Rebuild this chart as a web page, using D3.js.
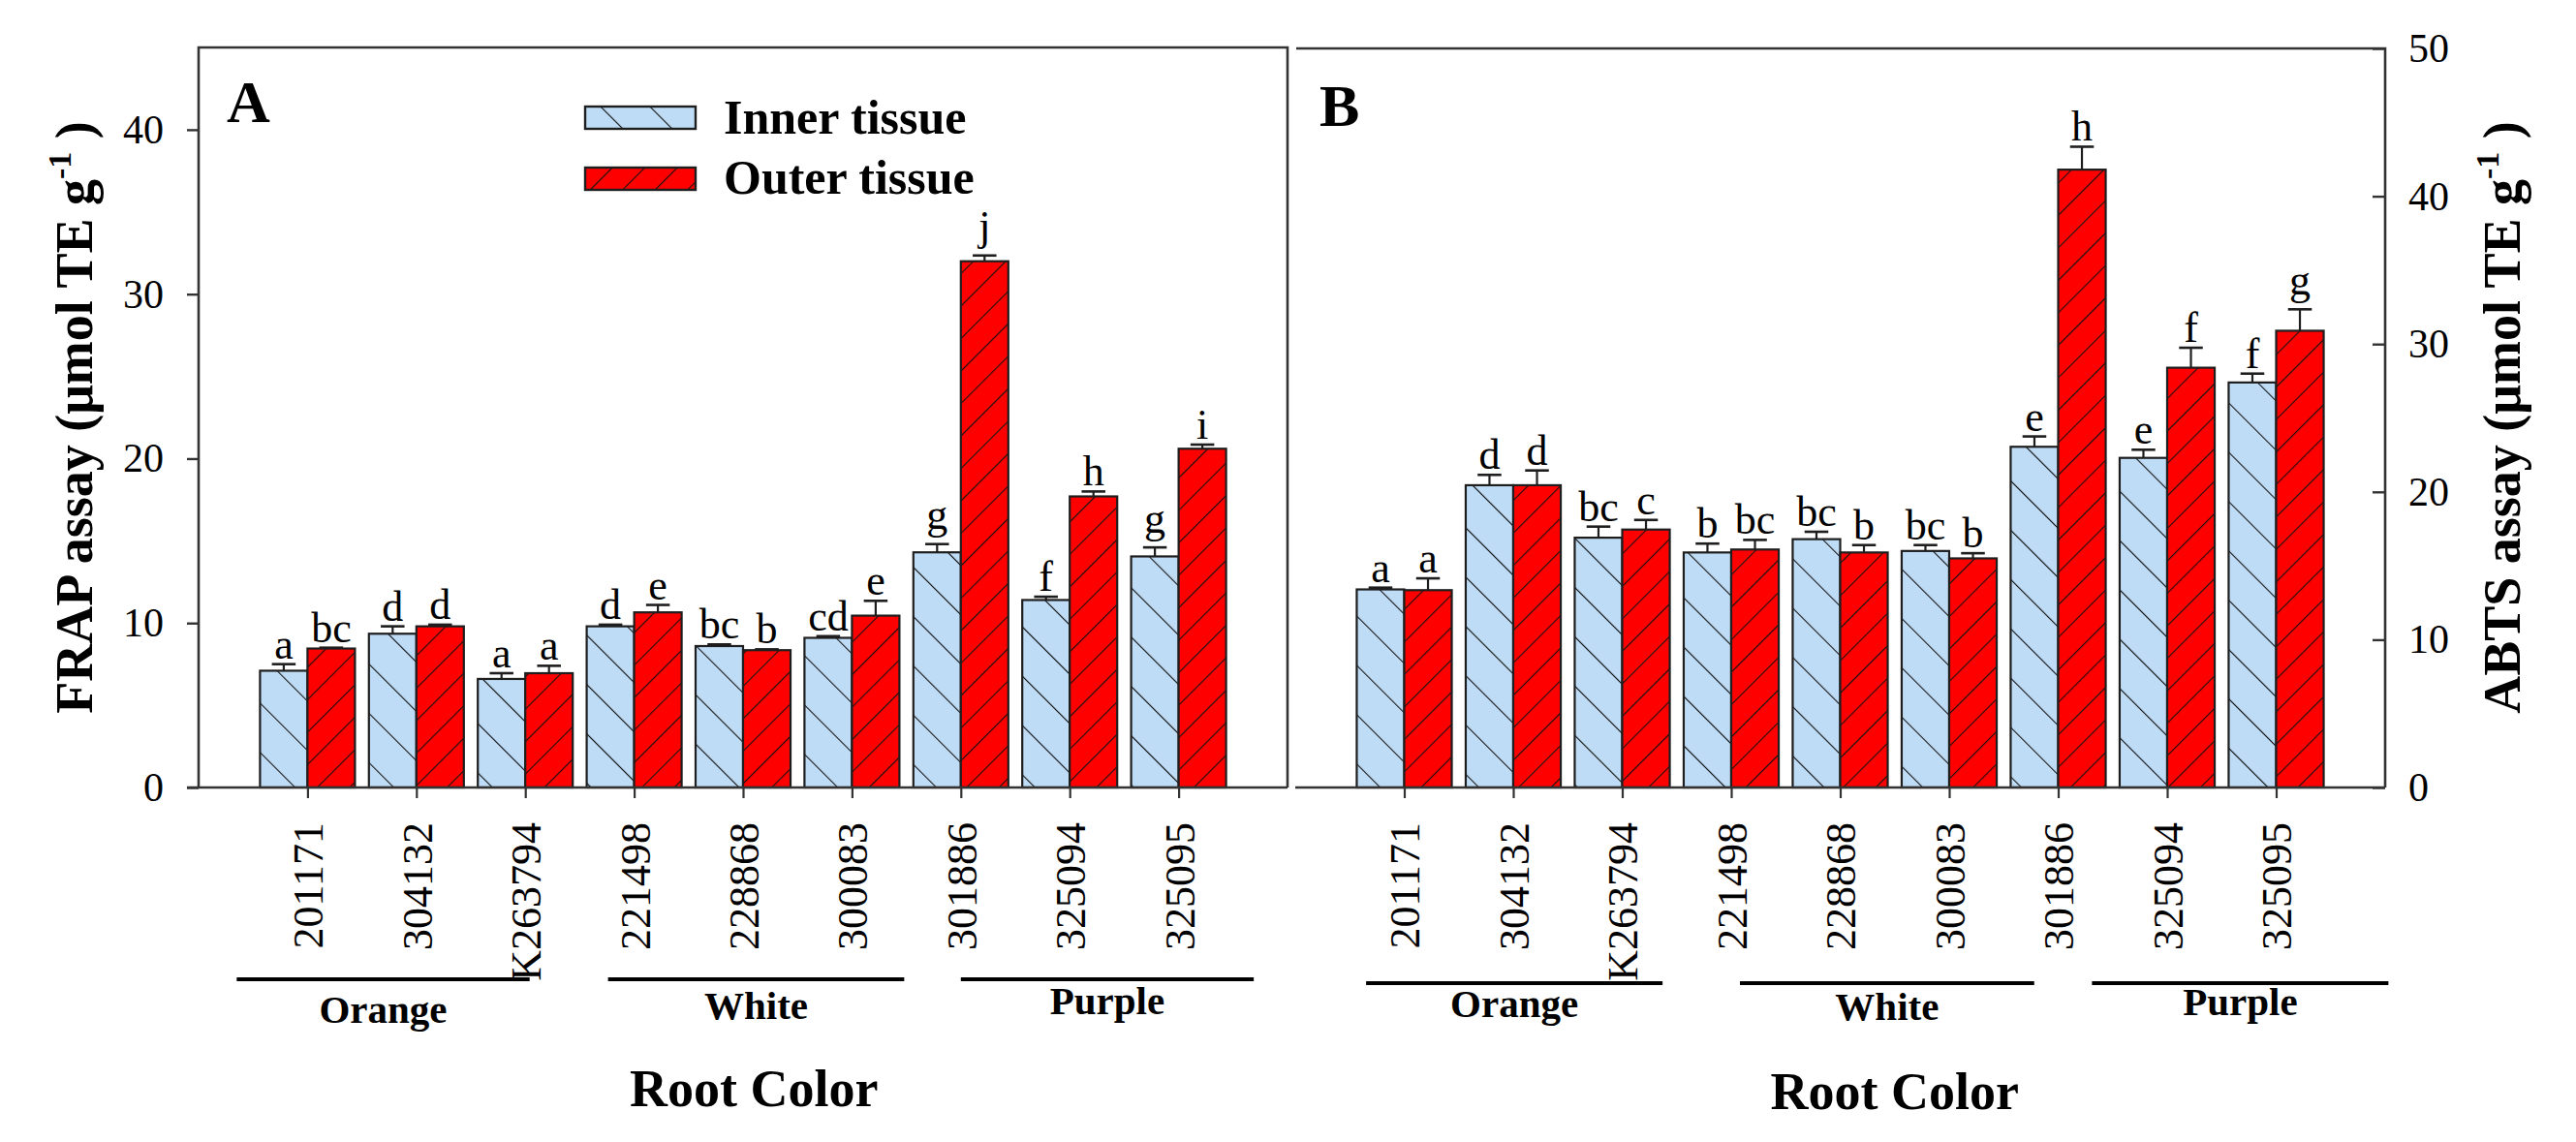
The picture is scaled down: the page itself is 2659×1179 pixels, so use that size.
<!DOCTYPE html>
<html>
<head>
<meta charset="utf-8">
<script src="https://cdn.jsdelivr.net/npm/d3@7/dist/d3.min.js"></script>
<style>
html,body{margin:0;padding:0;background:#fff;}
svg{display:block;}
text{font-family:"Liberation Serif","Times New Roman",serif;fill:#000;}
</style>
</head>
<body>
<svg id="chart" width="2659" height="1179"></svg>
<script>
// ---------------- data ----------------
const categories = ["201171","304132","K263794","221498","228868","300083","301886","325094","325095"];
const seriesNames = ["Inner tissue","Outer tissue"];

const frapInner    = [7.1, 9.35, 6.6, 9.8, 8.6, 9.1, 14.3, 11.4, 14.05];
const frapInnerErr = [0.4, 0.45, 0.35, 0.1, 0.1, 0.1, 0.5, 0.2, 0.55];
const frapOuter    = [8.45, 9.8, 6.95, 10.65, 8.35, 10.45, 32.0, 17.7, 20.6];
const frapOuterErr = [0.05, 0.1, 0.45, 0.45, 0.05, 0.9, 0.35, 0.3, 0.25];
const frapInnerLetters = ["a","d","a","d","bc","cd","g","f","g"];
const frapOuterLetters = ["bc","d","a","e","b","e","j","h","i"];

const abtsInner    = [13.4, 20.45, 16.9, 15.9, 16.8, 16.0, 23.05, 22.3, 27.4];
const abtsInnerErr = [0.12, 0.7, 0.75, 0.6, 0.5, 0.4, 0.7, 0.55, 0.6];
const abtsOuter    = [13.35, 20.45, 17.45, 16.1, 15.9, 15.5, 41.8, 28.4, 30.9];
const abtsOuterErr = [0.8, 1.0, 0.65, 0.65, 0.5, 0.35, 1.55, 1.35, 1.45];
const abtsInnerLetters = ["a","d","bc","b","bc","bc","e","e","f"];
const abtsOuterLetters = ["a","d","c","bc","b","b","h","f","g"];

const frapTicks = [0,10,20,30,40];
const abtsTicks = [0,10,20,30,40,50];

const groupNames = ["Orange","White","Purple"];
// group spans in category-index units (annotation lines under the axis)
const groupSpansA = [[-0.65,2.04],[2.76,5.48],[6.0,8.69]];
const groupSpansB = [[-0.35,2.37],[3.08,5.78],[6.31,9.03]];

// ---------------- drawing ----------------
const svg = d3.select("#chart");
const BLUE = "#bfdcf6", RED = "#ff0000", EDGE = "#1e1e1e", FRAME = "#333";

const defs = svg.append("defs");
function hatch(id, fill, w, angle){
  const p = defs.append("pattern").attr("id", id)
    .attr("patternUnits","userSpaceOnUse").attr("width", w).attr("height", w)
    .attr("patternTransform", `rotate(${angle})`);
  p.append("rect").attr("width", w).attr("height", w).attr("fill", fill);
  p.append("line").attr("x1",0).attr("y1",0).attr("x2",0).attr("y2",w)
    .attr("stroke","#111").attr("stroke-width",2.2);
}
hatch("hInner", BLUE, 36, -45);
hatch("hOuter", RED, 23.7, 45);

const Y0 = 813;

function panel(opt){
  const g = svg.append("g");
  const x = d3.scaleLinear().domain([0,10]).range([opt.x0, opt.x1]);
  const y = d3.scaleLinear().domain([0, opt.ymax]).range([Y0, opt.yTop]);
  const bw = 0.436; // bar width in category units

  const series = [
    {vals: opt.inner, errs: opt.innerErr, letters: opt.innerLetters, off: -bw, fill: "url(#hInner)"},
    {vals: opt.outer, errs: opt.outerErr, letters: opt.outerLetters, off: 0, fill: "url(#hOuter)"}
  ];

  series.forEach(s => {
    const data = categories.map((c,i) => ({i, v: s.vals[i], e: s.errs[i], l: s.letters[i]}));
    g.selectAll(null).data(data).enter().append("rect")
      .attr("x", d => x(d.i + 1 + s.off))
      .attr("y", d => y(d.v))
      .attr("width", d => x(d.i + 1 + s.off + bw) - x(d.i + 1 + s.off))
      .attr("height", d => Y0 - y(d.v))
      .attr("fill", s.fill).attr("stroke", EDGE).attr("stroke-width", 2.2);
    // error bars (upper)
    const cx = d => x(d.i + 1 + s.off + bw/2);
    const capHalf = (x(bw) - x(0)) / 4;
    g.selectAll(null).data(data).enter().append("line")
      .attr("x1", cx).attr("x2", cx)
      .attr("y1", d => y(d.v)).attr("y2", d => y(d.v + d.e))
      .attr("stroke", EDGE).attr("stroke-width", 2.2);
    g.selectAll(null).data(data).enter().append("line")
      .attr("x1", d => cx(d) - capHalf).attr("x2", d => cx(d) + capHalf)
      .attr("y1", d => y(d.v + d.e)).attr("y2", d => y(d.v + d.e))
      .attr("stroke", EDGE).attr("stroke-width", 2.6);
    // letters
    g.selectAll(null).data(data).enter().append("text")
      .attr("x", cx)
      .attr("y", d => y(d.v + d.e) - 6 - (/[gj]/.test(d.l) ? 9.5 : 0))
      .attr("text-anchor","middle")
      .attr("font-size", 44)
      .text(d => d.l);
  });

  // x axis
  const xAxis = d3.axisBottom(x)
    .tickValues(categories.map((c,i) => i + 1))
    .tickFormat((d) => categories[d - 1])
    .tickSize(11).tickSizeOuter(0);
  const xa = g.append("g").attr("transform", `translate(0,${Y0})`).call(xAxis);
  xa.select(".domain").remove();
  xa.selectAll(".tick line").attr("stroke", FRAME).attr("stroke-width", 2.2);
  xa.selectAll(".tick text")
    .attr("transform","rotate(-90)")
    .attr("x", -36).attr("y", 0).attr("dy","0.35em")
    .attr("text-anchor","end")
    .attr("font-size", 44)
    .attr("font-family", '"Liberation Serif","Times New Roman",serif')
    .attr("fill","#000");
  // axis baseline
  g.append("line").attr("x1", opt.axisLineX0).attr("x2", opt.axisLineX1)
    .attr("y1", Y0).attr("y2", Y0).attr("stroke", FRAME).attr("stroke-width", 2.6);

  // group lines and labels
  opt.spans.forEach((sp, k) => {
    g.append("line")
      .attr("x1", x(sp[0] + 1)).attr("x2", x(sp[1] + 1))
      .attr("y1", opt.groupLineY).attr("y2", opt.groupLineY)
      .attr("stroke","#000").attr("stroke-width", 4);
    g.append("text")
      .attr("x", x((sp[0] + sp[1]) / 2 + 1))
      .attr("y", opt.groupLabelY[k])
      .attr("text-anchor","middle")
      .attr("font-size", 41).attr("font-weight","bold")
      .text(groupNames[k]);
  });

  // x title
  g.append("text").attr("x", x(opt.titleXPos)).attr("y", opt.titleY)
    .attr("text-anchor","middle").attr("font-size", 54).attr("font-weight","bold")
    .text("Root Color");

  // panel letter
  g.append("text").attr("x", opt.x0 + opt.letterDx).attr("y", opt.letterY)
    .attr("font-size", 62).attr("font-weight","bold").text(opt.letter);

  return {g, x, y};
}

// ---- Panel A ----
const A = panel({
  x0: 205, x1: 1329, yTop: 49, ymax: 45,
  inner: frapInner, innerErr: frapInnerErr, innerLetters: frapInnerLetters,
  outer: frapOuter, outerErr: frapOuterErr, outerLetters: frapOuterLetters,
  axisLineX0: 193, axisLineX1: 1329,
  spans: groupSpansA, groupLineY: 1011, groupLabelY: [1056, 1052, 1047],
  titleXPos: 5.1, titleY: 1142, letter: "A", letterDx: 29, letterY: 126
});
// frame A
A.g.append("path")
  .attr("d", `M205,${Y0} V49 H1329 V${Y0}`)
  .attr("fill","none").attr("stroke", FRAME).attr("stroke-width", 2.6);
// left y axis
const yaxA = d3.axisLeft(A.y).tickValues(frapTicks).tickSize(12).tickPadding(24).tickSizeOuter(0);
const ya = A.g.append("g").attr("transform","translate(205,0)").call(yaxA);
ya.select(".domain").remove();
ya.selectAll(".tick line").attr("stroke", FRAME).attr("stroke-width", 2.4);
ya.selectAll(".tick text").attr("font-size", 42)
  .attr("font-family", '"Liberation Serif","Times New Roman",serif').attr("fill","#000");
// y title A
const tA = A.g.append("text")
  .attr("transform", "translate(95,431) rotate(-90)")
  .attr("text-anchor","middle").attr("font-size", 54).attr("font-weight","bold");
tA.append("tspan").text("FRAP assay (\u03bcmol TE g");
tA.append("tspan").attr("dy", -22).attr("font-size", 34).text("-1");
tA.append("tspan").attr("dy", 22).text(" )");

// legend
const legend = A.g.append("g");
seriesNames.forEach((nm, k) => {
  const yTopL = k === 0 ? 110 : 173;
  legend.append("rect").attr("x", 604).attr("y", yTopL).attr("width", 114).attr("height", 23)
    .attr("fill", k === 0 ? "url(#hInner)" : "url(#hOuter)")
    .attr("stroke", EDGE).attr("stroke-width", 2.4);
  legend.append("text").attr("x", 747).attr("y", k === 0 ? 138 : 200)
    .attr("font-size", 50).attr("font-weight","bold").text(nm);
});

// ---- Panel B ----
const B = panel({
  x0: 1337, x1: 2462, yTop: 50, ymax: 50,
  inner: abtsInner, innerErr: abtsInnerErr, innerLetters: abtsInnerLetters,
  outer: abtsOuter, outerErr: abtsOuterErr, outerLetters: abtsOuterLetters,
  axisLineX0: 1337, axisLineX1: 2462,
  spans: groupSpansB, groupLineY: 1015, groupLabelY: [1050, 1053, 1048],
  titleXPos: 5.5, titleY: 1145, letter: "B", letterDx: 25, letterY: 130
});
B.g.append("path")
  .attr("d", `M1338,50 H2462 V${Y0}`)
  .attr("fill","none").attr("stroke", FRAME).attr("stroke-width", 2.6);
const yaxB = d3.axisRight(B.y).tickValues(abtsTicks).tickSize(-13).tickPadding(24).tickSizeOuter(0);
const yb = B.g.append("g").attr("transform","translate(2462,0)").call(yaxB);
yb.select(".domain").remove();
yb.selectAll(".tick line").attr("stroke", FRAME).attr("stroke-width", 2.4);
yb.selectAll(".tick text").attr("font-size", 42)
  .attr("font-family", '"Liberation Serif","Times New Roman",serif').attr("fill","#000");
const tB = B.g.append("text")
  .attr("transform", "translate(2601,431) rotate(-90)")
  .attr("text-anchor","middle").attr("font-size", 54).attr("font-weight","bold");
tB.append("tspan").text("ABTS assay (\u03bcmol TE g");
tB.append("tspan").attr("dy", -22).attr("font-size", 34).text("-1");
tB.append("tspan").attr("dy", 22).text(" )");
</script>
</body>
</html>
